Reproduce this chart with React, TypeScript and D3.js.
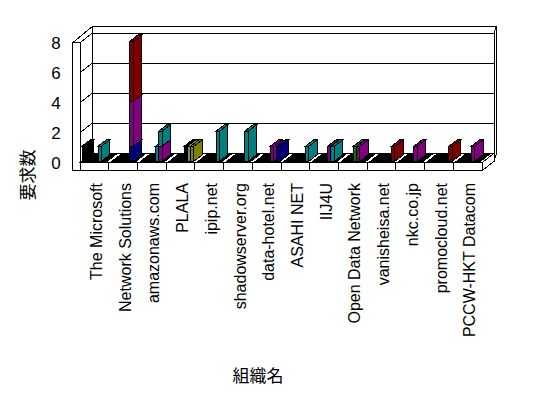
import * as d3 from 'd3';

const categories = [
  'The Microsoft', 'Network Solutions', 'amazonaws.com', 'PLALA', 'ipip.net',
  'shadowserver.org', 'data-hotel.net', 'ASAHI NET', 'IIJ4U', 'Open Data Network',
  'vanisheisa.net', 'nkc.co.jp', 'promocloud.net', 'PCCW-HKT Datacom',
];

// values per category, one array per coloured block
const blackFirst = [1, 0, 0, 0, 0, 0, 0, 0, 0, 0, 0, 0, 0, 0];
const blackPlala = [0, 0, 0, 1, 0, 0, 0, 0, 0, 0, 0, 0, 0, 0];
const tealLeft = [1, 0, 1, 0, 0, 0, 0, 0, 0, 0, 0, 0, 0, 0];
const greenLeft = [0, 0, 0, 0, 0, 0, 0, 0, 0, 1, 0, 0, 0, 0];
const purpleLeft = [0, 0, 0, 0, 0, 0, 1, 0, 1, 1, 0, 1, 0, 1];
const navyMid = [0, 1, 0, 0, 0, 0, 0, 0, 0, 0, 0, 0, 0, 0];
const purpleMid = [0, 3, 1, 0, 0, 0, 0, 0, 0, 0, 0, 0, 0, 0];
const maroonMid = [0, 4, 0, 0, 0, 0, 0, 0, 0, 0, 0, 0, 0, 0];
const tealMid = [0, 0, 1, 0, 2, 2, 0, 0, 1, 0, 0, 0, 0, 0];
const grayMid = [0, 0, 0, 1, 0, 0, 0, 0, 0, 0, 0, 0, 0, 0];
const oliveRight = [0, 0, 0, 1, 0, 0, 0, 0, 0, 0, 0, 0, 0, 0];
const navyRight = [0, 0, 0, 0, 0, 0, 1, 0, 0, 0, 0, 0, 0, 0];
const tealRight = [0, 0, 0, 0, 0, 0, 0, 1, 0, 0, 0, 0, 0, 0];
const maroonRight = [0, 0, 0, 0, 0, 0, 0, 0, 0, 0, 1, 0, 1, 0];

const yTicks = [0, 2, 4, 6, 8];

// slot = position inside the cluster, blocks with the same slot are stacked
const series = [
  { values: blackFirst, color: '#000000', slot: 0 },
  { values: greenLeft, color: '#008000', slot: 4 },
  { values: blackPlala, color: '#000000', slot: 5 },
  { values: tealLeft, color: '#008080', slot: 5 },
  { values: purpleLeft, color: '#800080', slot: 5 },
  { values: navyMid, color: '#000080', slot: 6 },
  { values: purpleMid, color: '#800080', slot: 6 },
  { values: maroonMid, color: '#800000', slot: 6 },
  { values: tealMid, color: '#008080', slot: 6 },
  { values: grayMid, color: '#808080', slot: 6 },
  { values: oliveRight, color: '#808000', slot: 7 },
  { values: navyRight, color: '#000080', slot: 7 },
  { values: tealRight, color: '#008080', slot: 7 },
  { values: maroonRight, color: '#800000', slot: 7 },
];

const W = 548;
const H = 398;
const left = 80;
const right = 482;
const D = { x: 12, y: -9.4 }; // depth of the floor
const T = { x: 2, y: -6.5 }; // back wall thickness
const slab = 8;
const wallW = 7.3;

const x = d3.scaleBand<string>().domain(categories).range([left, right]);
const y = d3.scaleLinear().domain([0, 8]).range([162.7, 42.7]);
const slot = d3.scaleLinear().domain([0, 1]).range([0.2, 3.4]);
const barW = 3.4;
const z0 = 0.15;
const z1 = 0.85;

const P = (px: number, v: number, z: number): [number, number] => [px + z * D.x, y(v) + z * D.y];
const poly = (pts: [number, number][]) => pts.map((p) => p.join(',')).join(' ');

export default function App() {
  const font = '"Liberation Sans", Arial, "Noto Sans CJK JP", sans-serif';
  const jp = '"Noto Sans CJK JP", sans-serif';
  const bw = x.bandwidth();

  // frame
  const floorTop = poly([P(left, 0, 0), P(right, 0, 0), P(right, 0, 1), P(left, 0, 1)]);
  const backWall = poly([P(left, 0, 1), P(right, 0, 1), P(right, 8, 1), P(left, 8, 1)]);
  const leftWall = poly([P(left, 0, 0), P(left, 0, 1), P(left, 8, 1), P(left, 8, 0)]);
  const bl = P(left, 8, 1);
  const br = P(right, 8, 1);
  const brb = P(right, 0, 1);
  const backTop = poly([bl, br, [br[0] + T.x, br[1] + T.y], [bl[0] + T.x - 2, bl[1] + T.y]]);
  const backSide = poly([br, [br[0] + T.x, br[1] + T.y], [brb[0] + T.x, brb[1] + T.y + slab], [brb[0], brb[1] + slab]]);
  const lwTop = poly([
    [left - wallW, y(8)], [left, y(8)], bl, [bl[0] + T.x - 2, bl[1] + T.y],
  ]);
  const fr = P(right, 0, 0);
  const floorSide = poly([fr, brb, [brb[0], brb[1] + slab], [fr[0], fr[1] + slab]]);

  // stacked blocks
  const blocks: { key: string; color: string; x0: number; v0: number; v1: number }[] = [];
  const slots = Array.from(new Set(series.map((s) => s.slot))).sort((a, b) => a - b);
  categories.forEach((c, i) => {
    slots.forEach((sl) => {
      let acc = 0;
      series.filter((s) => s.slot === sl).forEach((s, j) => {
        const v = s.values[i];
        if (!v) return;
        blocks.push({ key: `${i}-${sl}-${j}`, color: s.color, x0: (x(c) as number) + slot(sl), v0: acc, v1: acc + v });
        acc += v;
      });
    });
  });

  return (
    <svg width={W} height={H} style={{ position: 'absolute', left: 0, top: 0, background: '#fff' }}>
      <g stroke="#000" strokeWidth={1} shapeRendering="crispEdges">
        <polygon points={backTop} fill="#fff" />
        <polygon points={backSide} fill="#fff" />
        <polygon points={backWall} fill="#fff" />
        <polygon points={leftWall} fill="#fff" />
        <polygon points={lwTop} fill="#fff" />
        {yTicks.slice(1).map((t) => (
          <g key={t}>
            <line x1={P(left, t, 0)[0]} y1={P(left, t, 0)[1]} x2={P(left, t, 1)[0]} y2={P(left, t, 1)[1]} />
            <line x1={P(left, t, 1)[0]} y1={P(left, t, 1)[1]} x2={P(right, t, 1)[0]} y2={P(right, t, 1)[1]} />
          </g>
        ))}
        <rect x={left - wallW} y={y(8)} width={wallW} height={y(0) - y(8) + slab} fill="#fff" />
        <polygon points={floorTop} fill="#fff" />
        {categories.map((c) => {
          const a = (x(c) as number) + 1.5;
          const b = (x(c) as number) + bw - 3.2;
          return <polygon key={c} points={poly([P(a, 0, 0), P(b, 0, 0), P(b, 0, 1), P(a, 0, 1)])} fill="#000" />;
        })}
        <rect x={left} y={y(0)} width={right - left} height={slab} fill="#fff" />
        <polygon points={floorSide} fill="#fff" />
        {categories.slice(1).map((c) => (
          <line key={c} x1={x(c)} x2={x(c)} y1={y(0)} y2={y(0) + slab} />
        ))}
        {blocks.map((b) => {
          const xa = b.x0;
          const xb = b.x0 + barW;
          return (
            <g key={b.key} fill={b.color}>
              <polygon points={poly([P(xb, b.v0, z0), P(xb, b.v0, z1), P(xb, b.v1, z1), P(xb, b.v1, z0)])} />
              <polygon points={poly([P(xa, b.v1, z0), P(xb, b.v1, z0), P(xb, b.v1, z1), P(xa, b.v1, z1)])} />
              <polygon points={poly([P(xa, b.v0, z0), P(xb, b.v0, z0), P(xb, b.v1, z0), P(xa, b.v1, z0)])} />
            </g>
          );
        })}
      </g>
      <g fontFamily={font} fill="#000">
        {yTicks.map((t) => (
          <text key={t} x={56} y={y(t)} dy="0.36em" textAnchor="middle" fontSize={17}>{t}</text>
        ))}
        {categories.map((c) => (
          <text
            key={c}
            transform={`translate(${(x(c) as number) + bw / 2 + 2},183) rotate(-90)`}
            dy="0.35em"
            textAnchor="end"
            fontSize={16}
          >
            {c}
          </text>
        ))}
      </g>
      <text transform="translate(28.5,175) rotate(-90)" textAnchor="middle" dy="0.35em" fontFamily={jp} fontSize={17}>要求数</text>
      <text x={258} y={382} textAnchor="middle" fontFamily={jp} fontSize={17}>組織名</text>
    </svg>
  );
}
